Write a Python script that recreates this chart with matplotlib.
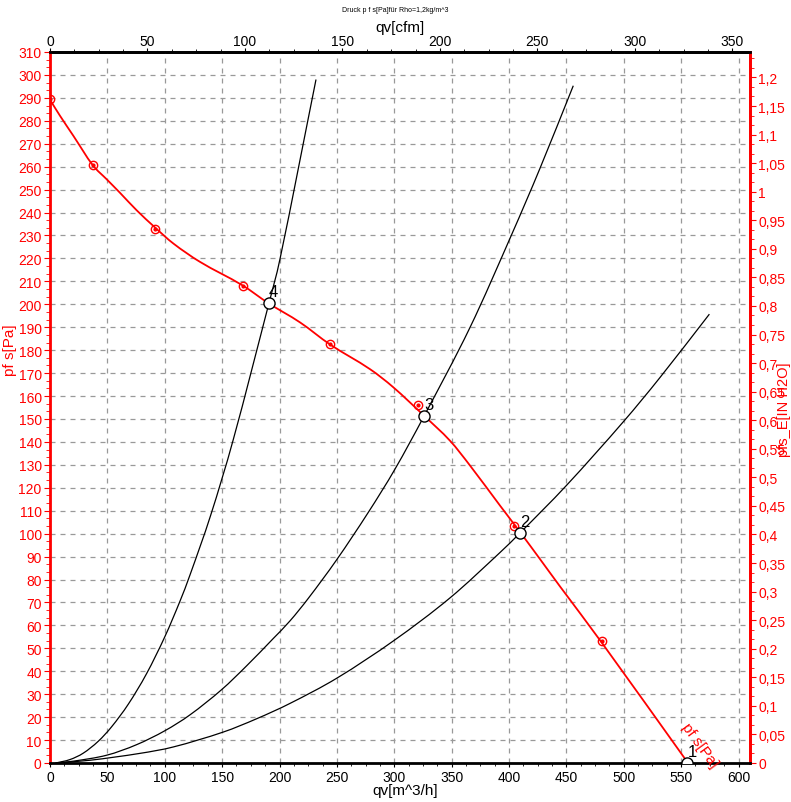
import matplotlib
matplotlib.use("Agg")
import matplotlib.pyplot as plt
from matplotlib.path import Path
from matplotlib.patches import PathPatch
from matplotlib.ticker import MultipleLocator, AutoMinorLocator, FuncFormatter

plt.rcParams['font.family'] = ['Liberation Sans', 'DejaVu Sans']

# fan curve p_fs [Pa] over qv [m^3/h]
fan_q = [0, 8.7, 20.3, 37.2, 49.4, 61, 75.5, 91.5, 107.5, 130.7, 167.6, 190.3,
         217.9, 244, 278.9, 299.2, 326, 348.6, 366, 392.2, 410.2, 427, 444.4, 480.8, 556]
fan_p = [289.2, 282.2, 273.5, 260.7, 254.5, 248.6, 241, 233.5, 226.5, 218.5, 208.3, 200.5,
         192.1, 182.5, 171.7, 163.8, 151.4, 140.5, 129.7, 112.2, 100.3, 88.9, 77, 52.5, 0]

# measured points on the fan curve
meas_q = [0, 37.5, 91.5, 168, 244, 321, 404.6, 480.8]
meas_p = [289.5, 260.7, 232.8, 207.9, 182.9, 156.1, 103.3, 53.1]

# system curves
sys4_q = [5, 17.4, 29, 42.1, 53.7, 68.3, 84.2, 100.2, 113.3, 122, 140, 159.7, 190.8, 200.4, 231.8]
sys4_p = [0, 1.5, 4.3, 9.5, 15.8, 25.7, 39.0, 55.2, 70.6, 82, 108, 141, 200.5, 219.7, 298]
sys3_q = [5, 20.3, 49.4, 75.5, 100.2, 122, 149.6, 171.4, 194.6, 209.2, 225.1, 249.8, 277.4,
          300.7, 326, 366, 402.3, 427, 456]
sys3_p = [0, 0.8, 3.4, 8.0, 14.1, 21.0, 32.0, 42.4, 54.3, 62, 71.8, 88.6, 109.3,
          128.2, 151.3, 189.9, 230.4, 259.3, 295.3]
sys2_q = [5, 34.9, 78.4, 107.5, 151, 180.1, 209.2, 250, 300, 348.6, 392.2, 409.6, 450, 500, 531.6, 574.6]
sys2_p = [0, 1.2, 4.2, 7.0, 13.5, 19.3, 26.0, 37.0, 53.5, 72.0, 91.8, 100.3, 121, 149, 168.1, 195.7]

# operating points
op_q = [555.5, 409.6, 326, 190.8]
op_p = [0, 100.3, 151.3, 200.5]
op_labels = ["1", "2", "3", "4"]

red = '#ff0000'


def smooth_path(xs, ys):
    # cubic Hermite through the read points (x as parameter), drawn as Bezier segments
    n = len(xs)
    slopes = []
    for i in range(n):
        a = max(i - 1, 0)
        b = min(i + 1, n - 1)
        slopes.append((ys[b] - ys[a]) / (xs[b] - xs[a]))
    verts = [(xs[0], ys[0])]
    codes = [Path.MOVETO]
    for i in range(n - 1):
        h = xs[i + 1] - xs[i]
        verts.append((xs[i] + h / 3, ys[i] + slopes[i] * h / 3))
        verts.append((xs[i + 1] - h / 3, ys[i + 1] - slopes[i + 1] * h / 3))
        verts.append((xs[i + 1], ys[i + 1]))
        codes += [Path.CURVE4] * 3
    return Path(verts, codes)


fig = plt.figure(figsize=(7.91, 8.03), dpi=100)
ax = fig.add_axes([50 / 791, 39 / 803, 700 / 791, 711 / 803])
ax.set_xlim(0, 610)
ax.set_ylim(0, 310)

# grid
ax.xaxis.set_major_locator(MultipleLocator(50))
ax.xaxis.set_minor_locator(MultipleLocator(12.5))
ax.yaxis.set_major_locator(MultipleLocator(10))
ax.yaxis.set_minor_locator(AutoMinorLocator(3))
ax.grid(True, which='major', color='#999999', linestyle=(0, (4, 4)), linewidth=0.9)

# curves
for q, p in [(sys4_q, sys4_p), (sys3_q, sys3_p), (sys2_q, sys2_p)]:
    ax.add_patch(PathPatch(smooth_path(q, p), facecolor='none', edgecolor='black',
                           linewidth=0.9, zorder=3))
ax.add_patch(PathPatch(smooth_path(fan_q, fan_p), facecolor='none', edgecolor=red,
                       linewidth=1.3, zorder=4))
ax.plot(meas_q, meas_p, linestyle='none', marker='o', markersize=6, mfc='none',
        mec=red, mew=1.0, zorder=5)
ax.plot(meas_q, meas_p, linestyle='none', marker='o', markersize=2, mfc=red,
        mec=red, zorder=5)
ax.plot(op_q, op_p, linestyle='none', marker='o', markersize=8, mfc='white',
        mec='black', mew=1.0, zorder=6)
for q, p, lab in zip(op_q, op_p, op_labels):
    ax.annotate(lab, (q, p), xytext=(0, 3), textcoords='offset points',
                ha='left', va='bottom', fontsize=12, color='black', zorder=7)

ax.text(566, 8, "pf s[Pa]", color=red, fontsize=11, rotation=-54,
        rotation_mode='anchor', ha='center', va='center')

# spines
for side in ['top', 'bottom']:
    ax.spines[side].set_color('black')
    ax.spines[side].set_linewidth(2)
ax.spines['left'].set_color(red)
ax.spines['left'].set_linewidth(2)
ax.spines['right'].set_color(red)
ax.spines['right'].set_linewidth(2)

ax.tick_params(axis='x', which='major', direction='out', length=3, labelsize=10, colors='black', pad=2)
ax.tick_params(axis='x', which='minor', direction='out', length=2, color='black')
ax.tick_params(axis='y', which='major', direction='out', length=4, labelsize=10,
               colors=red, pad=2)
ax.tick_params(axis='y', which='minor', direction='out', length=3, color=red)

# top axis in cfm
top = ax.secondary_xaxis('top', functions=(lambda v: v / 1.699, lambda v: v * 1.699))
top.xaxis.set_major_locator(MultipleLocator(50))
top.xaxis.set_minor_locator(MultipleLocator(12.5))
top.tick_params(axis='x', which='major', direction='out', length=3, labelsize=10, pad=0)
top.tick_params(axis='x', which='minor', direction='out', length=2)
top.spines['top'].set_linewidth(2)

# right axis in inch water
right = ax.secondary_yaxis('right', functions=(lambda v: v / 249.089, lambda v: v * 249.089))
right.yaxis.set_major_locator(MultipleLocator(0.05))
right.yaxis.set_minor_locator(AutoMinorLocator(3))
right.yaxis.set_major_formatter(FuncFormatter(lambda v, pos: f"{v:.2f}".rstrip('0').rstrip('.').replace('.', ',')))
right.tick_params(axis='y', which='major', direction='out', length=4, labelsize=10, colors=red, pad=2)
right.tick_params(axis='y', which='minor', direction='out', length=3, color=red)
right.spines['right'].set_color(red)
right.spines['right'].set_linewidth(2)

# axis titles placed in figure pixels
W, H = 791, 803
fig.text(0.5, 1 - 10 / H, "Druck p f s[Pa]für Rho=1,2kg/m^3", fontsize=5,
         ha='center', va='center')
fig.text(400 / W, 1 - 28 / H, "qv[cfm]", fontsize=11, ha='center', va='center')
fig.text(405 / W, 1 - 791 / H, "qv[m^3/h]", fontsize=11, ha='center', va='center')
fig.text(10 / W, 1 - 350 / H, "pf s[Pa]", fontsize=11, color=red, rotation=90,
         ha='center', va='center')
fig.text(784 / W, 1 - 410 / H, "pfs_E[IN H2O]", fontsize=10.5, color=red, rotation=90,
         ha='center', va='center')

fig.savefig("out.png", dpi=100)
